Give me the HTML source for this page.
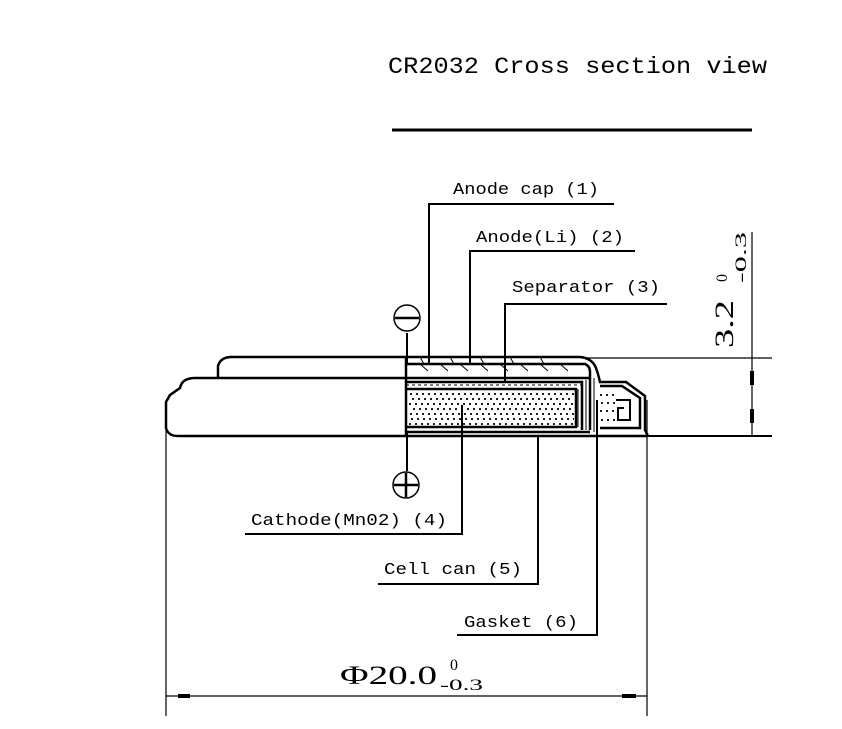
<!DOCTYPE html>
<html><head><style>body{margin:0;background:#fff}svg{display:block}</style></head>
<body>
<svg width="842" height="729" viewBox="0 0 842 729" xmlns="http://www.w3.org/2000/svg" font-family="Liberation Mono, monospace" fill="none" stroke="#000">
<g fill="#000" stroke="none">
<text x="388" y="73" font-size="23" textLength="379" lengthAdjust="spacingAndGlyphs">CR2032 Cross section view</text>
<text x="453" y="194" font-size="17" textLength="146" lengthAdjust="spacingAndGlyphs">Anode cap (1)</text>
<text x="476" y="242" font-size="17" textLength="148" lengthAdjust="spacingAndGlyphs">Anode(Li) (2)</text>
<text x="512" y="292" font-size="17" textLength="148" lengthAdjust="spacingAndGlyphs">Separator (3)</text>
<text x="251" y="525" font-size="17" textLength="196" lengthAdjust="spacingAndGlyphs">Cathode(Mn02) (4)</text>
<text x="384" y="574" font-size="17" textLength="138" lengthAdjust="spacingAndGlyphs">Cell can (5)</text>
<text x="464" y="627" font-size="17" textLength="114" lengthAdjust="spacingAndGlyphs">Gasket (6)</text>
<text x="340" y="684" font-size="26" font-family="Liberation Serif, serif" textLength="97" lengthAdjust="spacingAndGlyphs">Φ20.0</text>
<text x="450" y="670" font-size="16" font-family="Liberation Serif, serif">0</text>
<text x="440" y="690" font-size="16" font-family="Liberation Serif, serif" textLength="43" lengthAdjust="spacingAndGlyphs">-0.3</text>
<g transform="translate(733,348) rotate(-90)">
<text x="0" y="0" font-size="26" font-family="Liberation Serif, serif" textLength="48" lengthAdjust="spacingAndGlyphs">3.2</text>
<text x="66" y="-6" font-size="16" font-family="Liberation Serif, serif">0</text>
<text x="65" y="13" font-size="16" font-family="Liberation Serif, serif" textLength="51" lengthAdjust="spacingAndGlyphs">-0.3</text>
</g>
</g>
<line x1="392" y1="130" x2="752" y2="130" stroke-width="3"/>
<g stroke-width="2">
<polyline points="429,364 429,204 614,204"/>
<polyline points="470,364 470,251 635,251"/>
<polyline points="505,382 505,304 667,304"/>
<polyline points="462,405 462,534 245,534"/>
<polyline points="538,436 538,584 378,584"/>
<polyline points="597,400 597,635 457,635"/>
<line x1="407" y1="333" x2="407" y2="364"/>
<line x1="407" y1="432" x2="407" y2="471"/>
</g>
<g stroke-width="1.5">
<circle cx="407" cy="318" r="13"/><line x1="395" y1="318" x2="419" y2="318" stroke-width="2.5"/>
<circle cx="406" cy="485" r="13"/><line x1="394" y1="485" x2="418" y2="485" stroke-width="2.5"/><line x1="406" y1="473" x2="406" y2="497" stroke-width="2.5"/>
</g>
<g stroke-width="1.2">
<line x1="166" y1="400" x2="166" y2="716"/>
<line x1="647" y1="400" x2="647" y2="716"/>
<line x1="166" y1="696" x2="647" y2="696"/>
<line x1="752" y1="232" x2="752" y2="436"/>
<line x1="585" y1="358" x2="772" y2="358"/>
<line x1="645" y1="436" x2="772" y2="436" stroke-width="2"/>
</g>
<g stroke-width="4">
<line x1="178" y1="696" x2="190" y2="696"/><line x1="622" y1="696" x2="636" y2="696"/>
<line x1="752" y1="371" x2="752" y2="385"/><line x1="752" y1="409" x2="752" y2="423"/>
</g>
<g stroke-width="2.5">
<path d="M218,377 L218,366 Q220,358 230,357 L580,357 Q592,358 596,368 L598,374"/>
<path d="M195,378 L590,378"/>
<path d="M195,378 Q182,378 180,388 L170,395 L166,402 L166,428 Q168,436 178,436 L648,436"/>
<path d="M406,364 L585,364 Q590,366 590,372 L590,430"/>
<path d="M406,382 L582,382 L582,430"/>
<path d="M406,389 L576,389 L576,427 L406,427"/>
<path d="M406,432 L590,432"/>
<line x1="406" y1="357" x2="406" y2="436"/>
<path d="M598,374 L600,382 L626,382 L645,396 L645,430 L648,436"/>
<path d="M600,386 L622,386 L640,398 L640,428 L600,428"/>
<path d="M616,400 L630,400 L630,420 L618,420 L618,408 L624,408" stroke-width="2"/>
</g>
<g stroke-width="1">
<line x1="578" y1="389" x2="578" y2="427"/><line x1="586" y1="380" x2="586" y2="430"/>
<line x1="594" y1="378" x2="594" y2="432"/>
<path d="M420,364 l8,7 M440,364 l8,7 M460,364 l8,7 M480,364 l8,7 M500,364 l8,7 M520,364 l8,7 M540,364 l8,7 M560,364 l8,7"/>
<path d="M420,357 l4,7 M450,357 l4,7 M480,357 l4,7 M510,357 l4,7 M540,357 l4,7"/>
<line x1="406" y1="385" x2="582" y2="385" stroke-dasharray="3,3"/>
</g>
<g stroke="#000" stroke-width="1.8" stroke-dasharray="2,4">
<line x1="410" y1="394" x2="574" y2="394"/>
<line x1="412" y1="399" x2="574" y2="399"/>
<line x1="409" y1="404" x2="574" y2="404"/>
<line x1="413" y1="409" x2="574" y2="409"/>
<line x1="410" y1="414" x2="574" y2="414"/>
<line x1="411" y1="419" x2="574" y2="419"/>
<line x1="409" y1="424" x2="574" y2="424"/>
<line x1="600" y1="395" x2="615" y2="395"/>
<line x1="601" y1="403" x2="615" y2="403"/>
<line x1="600" y1="411" x2="615" y2="411"/>
<line x1="601" y1="420" x2="615" y2="420"/>
</g>
</svg>
</body></html>
